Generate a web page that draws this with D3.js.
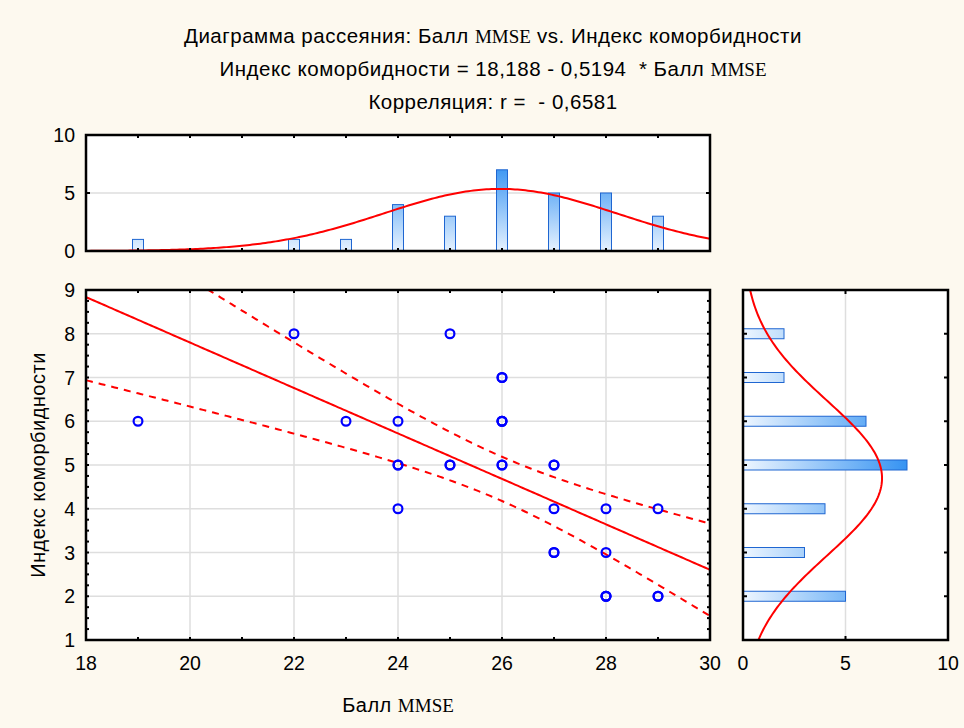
<!DOCTYPE html>
<html lang="ru">
<head>
<meta charset="UTF-8">
<script src="https://d3js.org/d3.v7.min.js"></script>
<style>
  body { margin: 0; background: #fdf9ef; font-family: "Liberation Sans", Arial, sans-serif; }
  text { white-space: pre; }
  .serif { font-family: "Liberation Serif", "Times New Roman", serif; letter-spacing: 0; }
</style>
</head>
<body>
<script>
// raw observations: MMSE score and comorbidity index (30 patients)
const mmse = [19, 22, 23, 24, 24, 24, 24, 25, 25, 25,
              26, 26, 26, 26, 26, 26, 26, 27, 27, 27,
              27, 27, 28, 28, 28, 28, 28, 29, 29, 29];
const comorb = [6, 8, 6, 6, 5, 5, 4, 8, 5, 5,
                7, 7, 6, 6, 6, 5, 5, 5, 5, 4,
                3, 3, 4, 3, 2, 2, 2, 4, 2, 2];

// frequencies for the marginal histograms
const xBins = [19, 22, 23, 24, 25, 26, 27, 28, 29];
const xCounts = [1, 1, 1, 4, 3, 7, 5, 5, 3];
const yBins = [2, 3, 4, 5, 6, 7, 8];
const yCounts = [5, 3, 4, 8, 6, 2, 2];

const titleLines = [
  ["Диаграмма рассеяния: Балл ", "MMSE", " vs. Индекс коморбидности"],
  ["Индекс коморбидности = 18,188 - 0,5194  * Балл ", "MMSE", ""],
  ["Корреляция: r =  - 0,6581", "", ""]
];

const W = 964, H = 728;
const svg = d3.select("body").append("svg").attr("width", W).attr("height", H);

// panel boxes
const sc = { l: 86, r: 710, t: 290, b: 640 };
const th = { l: 86, r: 710, t: 135, b: 251 };
const rh = { l: 743, r: 948, t: 290, b: 640 };

const x = d3.scaleLinear().domain([18, 30]).range([sc.l, sc.r]);
const y = d3.scaleLinear().domain([1, 9]).range([sc.b, sc.t]);
const yTop = d3.scaleLinear().domain([0, 10]).range([th.b, th.t]);
const xRight = d3.scaleLinear().domain([0, 10]).range([rh.l, rh.r]);

// stats
const n = mmse.length;
const mx = d3.mean(mmse), my = d3.mean(comorb);
const sxx = d3.sum(mmse, v => (v - mx) ** 2);
const syy = d3.sum(comorb, v => (v - my) ** 2);
const sxy = d3.sum(mmse, (v, i) => (v - mx) * (comorb[i] - my));
const slope = sxy / sxx, icpt = my - slope * mx;
const se = Math.sqrt((syy - sxy * sxy / sxx) / (n - 2));
const tcrit = 2.0484;
const sdx = Math.sqrt(sxx / (n - 1)), sdy = Math.sqrt(syy / (n - 1));
const pdf = (v, m, s) => Math.exp(-0.5 * ((v - m) / s) ** 2) / (s * Math.sqrt(2 * Math.PI));

const defs = svg.append("defs");
[["clipSc", sc], ["clipTh", th], ["clipRh", rh]].forEach(([id, b]) => {
  defs.append("clipPath").attr("id", id).append("rect")
    .attr("x", b.l).attr("y", b.t).attr("width", b.r - b.l).attr("height", b.b - b.t);
});
const gv = defs.append("linearGradient").attr("id", "gradV").attr("gradientUnits", "userSpaceOnUse")
  .attr("x1", 0).attr("x2", 0).attr("y1", yTop(0)).attr("y2", yTop(7.5));
gv.append("stop").attr("offset", 0).attr("stop-color", "#e6f2ff");
gv.append("stop").attr("offset", 1).attr("stop-color", "#3593f2");
const gh = defs.append("linearGradient").attr("id", "gradH").attr("gradientUnits", "userSpaceOnUse")
  .attr("y1", 0).attr("y2", 0).attr("x1", xRight(0)).attr("x2", xRight(8));
gh.append("stop").attr("offset", 0).attr("stop-color", "#eef6ff");
gh.append("stop").attr("offset", 1).attr("stop-color", "#3593f2");

// panel backgrounds
[sc, th, rh].forEach(b => {
  svg.append("rect").attr("x", b.l).attr("y", b.t).attr("width", b.r - b.l).attr("height", b.b - b.t)
    .attr("fill", "#fff");
});

// grid
const grid = svg.append("g").attr("stroke", "#dedede").attr("stroke-width", 1.5);
d3.range(20, 30, 2).forEach(v => grid.append("line").attr("x1", x(v)).attr("x2", x(v)).attr("y1", sc.t).attr("y2", sc.b));
d3.range(2, 9).forEach(v => grid.append("line").attr("x1", sc.l).attr("x2", sc.r).attr("y1", y(v)).attr("y2", y(v)));
grid.append("line").attr("x1", th.l).attr("x2", th.r).attr("y1", yTop(5)).attr("y2", yTop(5));
grid.append("line").attr("x1", xRight(5)).attr("x2", xRight(5)).attr("y1", rh.t).attr("y2", rh.b);

// top histogram
svg.append("g").selectAll("rect").data(xBins).join("rect")
  .attr("x", d => x(d) - 5.5).attr("width", 11)
  .attr("y", (d, i) => yTop(xCounts[i])).attr("height", (d, i) => yTop(0) - yTop(xCounts[i]))
  .attr("fill", "url(#gradV)").attr("stroke", "#1f66d1").attr("stroke-width", 1);

const gx = d3.range(18, 30.01, 0.05);
const lineTop = d3.line().x(d => x(d)).y(d => yTop(n * pdf(d, mx, sdx)));
svg.append("path").datum(gx).attr("d", lineTop).attr("fill", "none")
  .attr("stroke", "#ff0000").attr("stroke-width", 2).attr("clip-path", "url(#clipTh)");

// right histogram
svg.append("g").selectAll("rect").data(yBins).join("rect")
  .attr("y", d => y(d) - 5).attr("height", 10)
  .attr("x", xRight(0)).attr("width", (d, i) => xRight(yCounts[i]) - xRight(0))
  .attr("fill", "url(#gradH)").attr("stroke", "#1f66d1").attr("stroke-width", 1);

const gy = d3.range(1, 9.01, 0.05);
const lineRight = d3.line().x(d => xRight(n * pdf(d, my, sdy))).y(d => y(d));
svg.append("path").datum(gy).attr("d", lineRight).attr("fill", "none")
  .attr("stroke", "#ff0000").attr("stroke-width", 2).attr("clip-path", "url(#clipRh)");

// regression + 95% confidence band
const fit = v => icpt + slope * v;
const band = (v, s) => fit(v) + s * tcrit * se * Math.sqrt(1 / n + (v - mx) ** 2 / sxx);
const gs = svg.append("g").attr("clip-path", "url(#clipSc)").attr("fill", "none").attr("stroke", "#ff0000");
gs.append("path").datum(gx).attr("d", d3.line().x(d => x(d)).y(d => y(fit(d)))).attr("stroke-width", 2);
[-1, 1].forEach(s => {
  gs.append("path").datum(gx).attr("d", d3.line().x(d => x(d)).y(d => y(band(d, s))))
    .attr("stroke-width", 2).attr("stroke-dasharray", "7,6");
});

// points
svg.append("g").selectAll("circle").data(mmse).join("circle")
  .attr("cx", d => x(d)).attr("cy", (d, i) => y(comorb[i])).attr("r", 4.4)
  .attr("fill", "none").attr("stroke", "#0000ff").attr("stroke-width", 2.2);

// frames and ticks
function frame(b) {
  svg.append("rect").attr("x", b.l).attr("y", b.t).attr("width", b.r - b.l).attr("height", b.b - b.t)
    .attr("fill", "none").attr("stroke", "#000").attr("stroke-width", 2.5);
}
const tk = svg.append("g").attr("stroke", "#000").attr("stroke-width", 2);
function hTicks(vals, sx, b, len) {
  vals.forEach(v => {
    tk.append("line").attr("x1", sx(v)).attr("x2", sx(v)).attr("y1", b.t).attr("y2", b.t + len);
    tk.append("line").attr("x1", sx(v)).attr("x2", sx(v)).attr("y1", b.b).attr("y2", b.b - len);
  });
}
function vTicks(vals, sy, b, len) {
  vals.forEach(v => {
    tk.append("line").attr("y1", sy(v)).attr("y2", sy(v)).attr("x1", b.l).attr("x2", b.l + len);
    tk.append("line").attr("y1", sy(v)).attr("y2", sy(v)).attr("x1", b.r).attr("x2", b.r - len);
  });
}
hTicks(d3.range(19, 30, 1), x, sc, 3);
vTicks(d3.range(1, 9, 0.25), y, sc, 3);
hTicks(d3.range(19, 30, 1), x, th, 3);
vTicks([5], yTop, th, 4);
hTicks([5], xRight, rh, 4);
vTicks(yBins, y, rh, 4);
frame(sc); frame(th); frame(rh);

// tick labels
const lab = svg.append("g").attr("font-size", 19.5).attr("fill", "#000");
d3.range(18, 31, 2).forEach(v => lab.append("text").attr("x", x(v)).attr("y", 670)
  .attr("text-anchor", "middle").text(v));
d3.range(1, 10).forEach(v => lab.append("text").attr("x", 75).attr("y", y(v) + 7)
  .attr("text-anchor", "end").text(v));
[0, 5, 10].forEach(v => lab.append("text").attr("x", 75).attr("y", yTop(v) + 7)
  .attr("text-anchor", "end").text(v));
[0, 5, 10].forEach(v => lab.append("text").attr("x", xRight(v)).attr("y", 670)
  .attr("text-anchor", "middle").text(v));

// titles
titleLines.forEach((parts, i) => {
  const t = svg.append("text").attr("x", 493).attr("y", 43 + i * 33)
    .attr("text-anchor", "middle").attr("font-size", 20.5).attr("letter-spacing", 0.5);
  t.append("tspan").text(parts[0]);
  if (parts[1]) t.append("tspan").attr("class", "serif").attr("font-size", 19).text(parts[1]);
  if (parts[2]) t.append("tspan").text(parts[2]);
});

const xt = svg.append("text").attr("x", 398).attr("y", 712).attr("text-anchor", "middle")
  .attr("font-size", 20).attr("letter-spacing", 0.5);
xt.append("tspan").text("Балл ");
xt.append("tspan").attr("class", "serif").attr("font-size", 19).text("MMSE");

svg.append("text").attr("transform", "translate(45,465) rotate(-90)")
  .attr("text-anchor", "middle").attr("font-size", 20).attr("letter-spacing", 0.5)
  .text("Индекс коморбидности");
</script>
</body>
</html>
